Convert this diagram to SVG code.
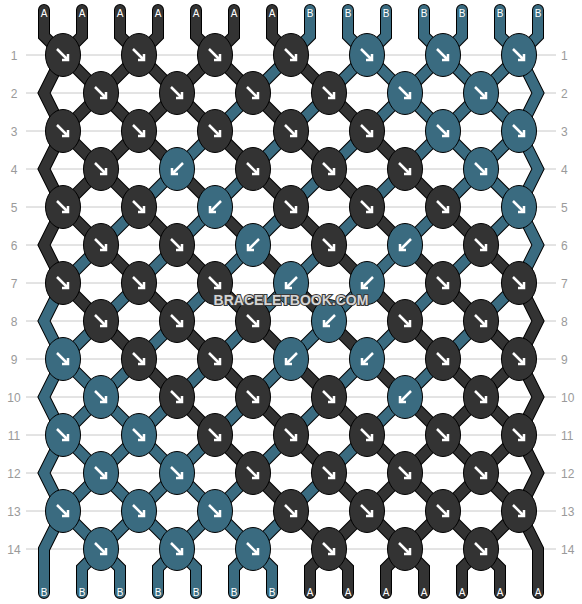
<svg xmlns="http://www.w3.org/2000/svg" xmlns:xlink="http://www.w3.org/1999/xlink" width="582" height="604" viewBox="0 0 582 604">
<style>
.grid line{stroke:#c8c8c8;stroke-width:1}
.num{font-family:"Liberation Sans",Arial,sans-serif;font-size:12px;fill:#9a9a9a}
.ol{fill:none;stroke:#000;stroke-width:12;stroke-linecap:round;stroke-linejoin:miter}
.sa{fill:none;stroke:#333333;stroke-width:10;stroke-linecap:round;stroke-linejoin:miter}
.sb{fill:none;stroke:#3a6b80;stroke-width:10;stroke-linecap:round;stroke-linejoin:miter}
.knot{stroke:#000;stroke-width:1}
.d{fill:#333333}
.t{fill:#3a6b80}
.arr{fill:none;stroke:#fff;stroke-width:2.5;stroke-linecap:butt;stroke-linejoin:miter}
.lbl{font-family:"Liberation Sans",Arial,sans-serif;font-size:10px;fill:#fff;text-anchor:middle}
.wm{font-family:"Liberation Sans",Arial,sans-serif;font-size:14px;font-weight:bold;fill:#d4d4d4;stroke:#3a3a3a;stroke-width:2;paint-order:stroke;text-anchor:middle}
</style>
<defs>
<path id="se" class="arr" d="M-6,-6 L5,5 M-1,5 L5,5 L5,-1"/>
<path id="sw" class="arr" d="M6,-6 L-5,5 M1,5 L-5,5 L-5,-1"/>
<ellipse id="e" cx="0" cy="0" rx="17.5" ry="21.5"/>
</defs>
<g class="grid">
<line x1="26" y1="55" x2="556" y2="55"/><line x1="26" y1="93" x2="556" y2="93"/><line x1="26" y1="131" x2="556" y2="131"/><line x1="26" y1="169" x2="556" y2="169"/><line x1="26" y1="207" x2="556" y2="207"/><line x1="26" y1="245" x2="556" y2="245"/><line x1="26" y1="283" x2="556" y2="283"/><line x1="26" y1="321" x2="556" y2="321"/><line x1="26" y1="359" x2="556" y2="359"/><line x1="26" y1="397" x2="556" y2="397"/><line x1="26" y1="435" x2="556" y2="435"/><line x1="26" y1="473" x2="556" y2="473"/><line x1="26" y1="511" x2="556" y2="511"/><line x1="26" y1="549" x2="556" y2="549"/>
</g>
<g class="num" text-anchor="middle">
<text x="14" y="59.5">1</text><text x="14" y="97.5">2</text><text x="14" y="135.5">3</text><text x="14" y="173.5">4</text><text x="14" y="211.5">5</text><text x="14" y="249.5">6</text><text x="14" y="287.5">7</text><text x="14" y="325.5">8</text><text x="14" y="363.5">9</text><text x="14" y="401.5">10</text><text x="14" y="439.5">11</text><text x="14" y="477.5">12</text><text x="14" y="515.5">13</text><text x="14" y="553.5">14</text>
</g>
<g class="num" text-anchor="start">
<text x="561" y="59.5">1</text><text x="561" y="97.5">2</text><text x="561" y="135.5">3</text><text x="561" y="173.5">4</text><text x="561" y="211.5">5</text><text x="561" y="249.5">6</text><text x="561" y="287.5">7</text><text x="561" y="325.5">8</text><text x="561" y="363.5">9</text><text x="561" y="401.5">10</text><text x="561" y="439.5">11</text><text x="561" y="477.5">12</text><text x="561" y="515.5">13</text><text x="561" y="553.5">14</text>
</g>
<g id="connectors">
<g class="ol">
<path d="M44 10 V36 L519 511 L538 549 V593"/>
<path d="M82 10 V36 L63 55 L44 93 L63 131 L481 549 L500 568 V593"/>
<path d="M120 10 V36 L519 435 L538 473 L519 511 L462 568 V593"/>
<path d="M158 10 V36 L63 131 L44 169 L63 207 L424 568 V593"/>
<path d="M196 10 V36 L519 359 L538 397 L519 435 L386 568 V593"/>
<path d="M234 10 V36 L63 207 L44 245 L63 283 L348 568 V593"/>
<path d="M272 10 V36 L519 283 L538 321 L519 359 L310 568 V593"/>
<path d="M310 10 V36 L63 283 L44 321 L63 359 L272 568 V593"/>
<path d="M348 10 V36 L519 207 L538 245 L519 283 L234 568 V593"/>
<path d="M386 10 V36 L63 359 L44 397 L63 435 L196 568 V593"/>
<path d="M424 10 V36 L519 131 L538 169 L519 207 L158 568 V593"/>
<path d="M462 10 V36 L63 435 L44 473 L63 511 L120 568 V593"/>
<path d="M500 10 V36 L519 55 L538 93 L519 131 L82 568 V593"/>
<path d="M538 10 V36 L63 511 L44 549 V593"/>
</g>
<g class="sa">
<path d="M44 10 V36 L519 511 L538 549 V593"/>
<path d="M82 10 V36 L63 55 L44 93 L63 131 L481 549 L500 568 V593"/>
<path d="M120 10 V36 L519 435 L538 473 L519 511 L462 568 V593"/>
<path d="M158 10 V36 L63 131 L44 169 L63 207 L424 568 V593"/>
<path d="M196 10 V36 L519 359 L538 397 L519 435 L386 568 V593"/>
<path d="M234 10 V36 L63 207 L44 245 L63 283 L348 568 V593"/>
<path d="M272 10 V36 L519 283 L538 321 L519 359 L310 568 V593"/>
</g>
<g class="sb">
<path d="M310 10 V36 L63 283 L44 321 L63 359 L272 568 V593"/>
<path d="M348 10 V36 L519 207 L538 245 L519 283 L234 568 V593"/>
<path d="M386 10 V36 L63 359 L44 397 L63 435 L196 568 V593"/>
<path d="M424 10 V36 L519 131 L538 169 L519 207 L158 568 V593"/>
<path d="M462 10 V36 L63 435 L44 473 L63 511 L120 568 V593"/>
<path d="M500 10 V36 L519 55 L538 93 L519 131 L82 568 V593"/>
<path d="M538 10 V36 L63 511 L44 549 V593"/>
</g>
</g>
<g class="lbl">
<text x="44" y="16.5">A</text><text x="82" y="16.5">A</text><text x="120" y="16.5">A</text><text x="158" y="16.5">A</text><text x="196" y="16.5">A</text><text x="234" y="16.5">A</text><text x="272" y="16.5">A</text><text x="310" y="16.5">B</text><text x="348" y="16.5">B</text><text x="386" y="16.5">B</text><text x="424" y="16.5">B</text><text x="462" y="16.5">B</text><text x="500" y="16.5">B</text><text x="538" y="16.5">B</text>
<text x="44" y="596">B</text><text x="82" y="596">B</text><text x="120" y="596">B</text><text x="158" y="596">B</text><text x="196" y="596">B</text><text x="234" y="596">B</text><text x="272" y="596">B</text><text x="310" y="596">A</text><text x="348" y="596">A</text><text x="386" y="596">A</text><text x="424" y="596">A</text><text x="462" y="596">A</text><text x="500" y="596">A</text><text x="538" y="596">A</text>
</g>
<g id="knots">
<g id="k1-1" class="knot d" transform="translate(63,55)"><use href="#e"/><use href="#se"/></g>
<g id="k1-2" class="knot d" transform="translate(139,55)"><use href="#e"/><use href="#se"/></g>
<g id="k1-3" class="knot d" transform="translate(215,55)"><use href="#e"/><use href="#se"/></g>
<g id="k1-4" class="knot d" transform="translate(291,55)"><use href="#e"/><use href="#se"/></g>
<g id="k1-5" class="knot t" transform="translate(367,55)"><use href="#e"/><use href="#se"/></g>
<g id="k1-6" class="knot t" transform="translate(443,55)"><use href="#e"/><use href="#se"/></g>
<g id="k1-7" class="knot t" transform="translate(519,55)"><use href="#e"/><use href="#se"/></g>
<g id="k2-1" class="knot d" transform="translate(101,93)"><use href="#e"/><use href="#se"/></g>
<g id="k2-2" class="knot d" transform="translate(177,93)"><use href="#e"/><use href="#se"/></g>
<g id="k2-3" class="knot d" transform="translate(253,93)"><use href="#e"/><use href="#se"/></g>
<g id="k2-4" class="knot d" transform="translate(329,93)"><use href="#e"/><use href="#se"/></g>
<g id="k2-5" class="knot t" transform="translate(405,93)"><use href="#e"/><use href="#se"/></g>
<g id="k2-6" class="knot t" transform="translate(481,93)"><use href="#e"/><use href="#se"/></g>
<g id="k3-1" class="knot d" transform="translate(63,131)"><use href="#e"/><use href="#se"/></g>
<g id="k3-2" class="knot d" transform="translate(139,131)"><use href="#e"/><use href="#se"/></g>
<g id="k3-3" class="knot d" transform="translate(215,131)"><use href="#e"/><use href="#se"/></g>
<g id="k3-4" class="knot d" transform="translate(291,131)"><use href="#e"/><use href="#se"/></g>
<g id="k3-5" class="knot d" transform="translate(367,131)"><use href="#e"/><use href="#se"/></g>
<g id="k3-6" class="knot t" transform="translate(443,131)"><use href="#e"/><use href="#se"/></g>
<g id="k3-7" class="knot t" transform="translate(519,131)"><use href="#e"/><use href="#se"/></g>
<g id="k4-1" class="knot d" transform="translate(101,169)"><use href="#e"/><use href="#se"/></g>
<g id="k4-2" class="knot t" transform="translate(177,169)"><use href="#e"/><use href="#sw"/></g>
<g id="k4-3" class="knot d" transform="translate(253,169)"><use href="#e"/><use href="#se"/></g>
<g id="k4-4" class="knot d" transform="translate(329,169)"><use href="#e"/><use href="#se"/></g>
<g id="k4-5" class="knot d" transform="translate(405,169)"><use href="#e"/><use href="#se"/></g>
<g id="k4-6" class="knot t" transform="translate(481,169)"><use href="#e"/><use href="#se"/></g>
<g id="k5-1" class="knot d" transform="translate(63,207)"><use href="#e"/><use href="#se"/></g>
<g id="k5-2" class="knot d" transform="translate(139,207)"><use href="#e"/><use href="#se"/></g>
<g id="k5-3" class="knot t" transform="translate(215,207)"><use href="#e"/><use href="#sw"/></g>
<g id="k5-4" class="knot d" transform="translate(291,207)"><use href="#e"/><use href="#se"/></g>
<g id="k5-5" class="knot d" transform="translate(367,207)"><use href="#e"/><use href="#se"/></g>
<g id="k5-6" class="knot d" transform="translate(443,207)"><use href="#e"/><use href="#se"/></g>
<g id="k5-7" class="knot t" transform="translate(519,207)"><use href="#e"/><use href="#se"/></g>
<g id="k6-1" class="knot d" transform="translate(101,245)"><use href="#e"/><use href="#se"/></g>
<g id="k6-2" class="knot d" transform="translate(177,245)"><use href="#e"/><use href="#se"/></g>
<g id="k6-3" class="knot t" transform="translate(253,245)"><use href="#e"/><use href="#sw"/></g>
<g id="k6-4" class="knot d" transform="translate(329,245)"><use href="#e"/><use href="#se"/></g>
<g id="k6-5" class="knot t" transform="translate(405,245)"><use href="#e"/><use href="#sw"/></g>
<g id="k6-6" class="knot d" transform="translate(481,245)"><use href="#e"/><use href="#se"/></g>
<g id="k7-1" class="knot d" transform="translate(63,283)"><use href="#e"/><use href="#se"/></g>
<g id="k7-2" class="knot d" transform="translate(139,283)"><use href="#e"/><use href="#se"/></g>
<g id="k7-3" class="knot d" transform="translate(215,283)"><use href="#e"/><use href="#se"/></g>
<g id="k7-4" class="knot t" transform="translate(291,283)"><use href="#e"/><use href="#sw"/></g>
<g id="k7-5" class="knot t" transform="translate(367,283)"><use href="#e"/><use href="#sw"/></g>
<g id="k7-6" class="knot d" transform="translate(443,283)"><use href="#e"/><use href="#se"/></g>
<g id="k7-7" class="knot d" transform="translate(519,283)"><use href="#e"/><use href="#se"/></g>
<g id="k8-1" class="knot d" transform="translate(101,321)"><use href="#e"/><use href="#se"/></g>
<g id="k8-2" class="knot d" transform="translate(177,321)"><use href="#e"/><use href="#se"/></g>
<g id="k8-3" class="knot d" transform="translate(253,321)"><use href="#e"/><use href="#se"/></g>
<g id="k8-4" class="knot t" transform="translate(329,321)"><use href="#e"/><use href="#sw"/></g>
<g id="k8-5" class="knot d" transform="translate(405,321)"><use href="#e"/><use href="#se"/></g>
<g id="k8-6" class="knot d" transform="translate(481,321)"><use href="#e"/><use href="#se"/></g>
<g id="k9-1" class="knot t" transform="translate(63,359)"><use href="#e"/><use href="#se"/></g>
<g id="k9-2" class="knot d" transform="translate(139,359)"><use href="#e"/><use href="#se"/></g>
<g id="k9-3" class="knot d" transform="translate(215,359)"><use href="#e"/><use href="#se"/></g>
<g id="k9-4" class="knot t" transform="translate(291,359)"><use href="#e"/><use href="#sw"/></g>
<g id="k9-5" class="knot t" transform="translate(367,359)"><use href="#e"/><use href="#sw"/></g>
<g id="k9-6" class="knot d" transform="translate(443,359)"><use href="#e"/><use href="#se"/></g>
<g id="k9-7" class="knot d" transform="translate(519,359)"><use href="#e"/><use href="#se"/></g>
<g id="k10-1" class="knot t" transform="translate(101,397)"><use href="#e"/><use href="#se"/></g>
<g id="k10-2" class="knot d" transform="translate(177,397)"><use href="#e"/><use href="#se"/></g>
<g id="k10-3" class="knot d" transform="translate(253,397)"><use href="#e"/><use href="#se"/></g>
<g id="k10-4" class="knot d" transform="translate(329,397)"><use href="#e"/><use href="#se"/></g>
<g id="k10-5" class="knot t" transform="translate(405,397)"><use href="#e"/><use href="#sw"/></g>
<g id="k10-6" class="knot d" transform="translate(481,397)"><use href="#e"/><use href="#se"/></g>
<g id="k11-1" class="knot t" transform="translate(63,435)"><use href="#e"/><use href="#se"/></g>
<g id="k11-2" class="knot t" transform="translate(139,435)"><use href="#e"/><use href="#se"/></g>
<g id="k11-3" class="knot d" transform="translate(215,435)"><use href="#e"/><use href="#se"/></g>
<g id="k11-4" class="knot d" transform="translate(291,435)"><use href="#e"/><use href="#se"/></g>
<g id="k11-5" class="knot d" transform="translate(367,435)"><use href="#e"/><use href="#se"/></g>
<g id="k11-6" class="knot d" transform="translate(443,435)"><use href="#e"/><use href="#se"/></g>
<g id="k11-7" class="knot d" transform="translate(519,435)"><use href="#e"/><use href="#se"/></g>
<g id="k12-1" class="knot t" transform="translate(101,473)"><use href="#e"/><use href="#se"/></g>
<g id="k12-2" class="knot t" transform="translate(177,473)"><use href="#e"/><use href="#se"/></g>
<g id="k12-3" class="knot d" transform="translate(253,473)"><use href="#e"/><use href="#se"/></g>
<g id="k12-4" class="knot d" transform="translate(329,473)"><use href="#e"/><use href="#se"/></g>
<g id="k12-5" class="knot d" transform="translate(405,473)"><use href="#e"/><use href="#se"/></g>
<g id="k12-6" class="knot d" transform="translate(481,473)"><use href="#e"/><use href="#se"/></g>
<g id="k13-1" class="knot t" transform="translate(63,511)"><use href="#e"/><use href="#se"/></g>
<g id="k13-2" class="knot t" transform="translate(139,511)"><use href="#e"/><use href="#se"/></g>
<g id="k13-3" class="knot t" transform="translate(215,511)"><use href="#e"/><use href="#se"/></g>
<g id="k13-4" class="knot d" transform="translate(291,511)"><use href="#e"/><use href="#se"/></g>
<g id="k13-5" class="knot d" transform="translate(367,511)"><use href="#e"/><use href="#se"/></g>
<g id="k13-6" class="knot d" transform="translate(443,511)"><use href="#e"/><use href="#se"/></g>
<g id="k13-7" class="knot d" transform="translate(519,511)"><use href="#e"/><use href="#se"/></g>
<g id="k14-1" class="knot t" transform="translate(101,549)"><use href="#e"/><use href="#se"/></g>
<g id="k14-2" class="knot t" transform="translate(177,549)"><use href="#e"/><use href="#se"/></g>
<g id="k14-3" class="knot t" transform="translate(253,549)"><use href="#e"/><use href="#se"/></g>
<g id="k14-4" class="knot d" transform="translate(329,549)"><use href="#e"/><use href="#se"/></g>
<g id="k14-5" class="knot d" transform="translate(405,549)"><use href="#e"/><use href="#se"/></g>
<g id="k14-6" class="knot d" transform="translate(481,549)"><use href="#e"/><use href="#se"/></g>
</g>
<text class="wm" x="291" y="305">BRACELETBOOK.COM</text>
</svg>
